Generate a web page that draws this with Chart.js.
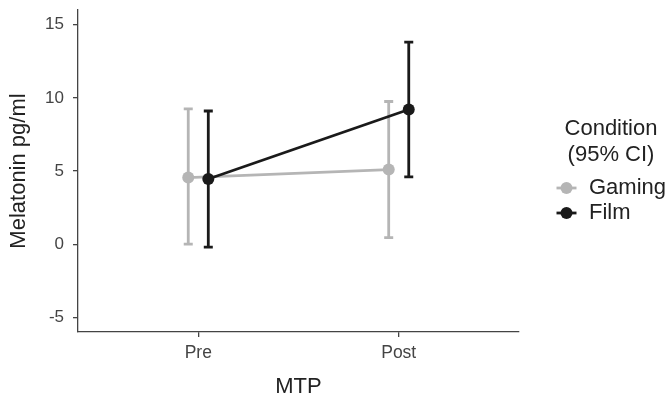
<!DOCTYPE html>
<html>
<head>
<meta charset="utf-8">
<script src="https://cdn.jsdelivr.net/npm/chart.js@4/dist/chart.umd.min.js"></script>
<style>
    body { margin: 0; background: #fff; }
    #wrap { width: 671px; height: 401px; position: relative; }
</style>
</head>
<body>
<div id="wrap"><canvas id="chart"></canvas></div>
<script>
const categories = ['Pre', 'Post'];
const gamingMean = [4.55, 5.1];
const gamingLower = [0.0, 0.45];
const gamingUpper = [9.25, 9.75];
const filmMean = [4.45, 9.2];
const filmLower = [-0.2, 4.6];
const filmUpper = [9.1, 13.8];
const yTicks = [-5, 0, 5, 10, 15];

const GREY = '#b5b5b5';
const BLACK = '#1a1a1a';
const AXIS = '#444';
const FONT = "'Liberation Sans', Arial, sans-serif";
const dodge = 0.05;

function toPoints(values, shift) {
    return values.map((v, i) => ({ x: i + 1 + shift, y: v }));
}

// draws the 95% CI whiskers under each dataset's line
const errorBars = {
    id: 'errorBars',
    beforeDatasetDraw(chart, args) {
        const ds = chart.data.datasets[args.index];
        const yScale = chart.scales.y;
        const ctx = chart.ctx;
        ctx.save();
        ctx.strokeStyle = ds.borderColor;
        ctx.lineWidth = 2.8;
        args.meta.data.forEach((pt, j) => {
            const top = yScale.getPixelForValue(ds.upper[j]);
            const bottom = yScale.getPixelForValue(ds.lower[j]);
            ctx.beginPath();
            ctx.moveTo(pt.x, top);
            ctx.lineTo(pt.x, bottom);
            ctx.moveTo(pt.x - 4.5, top);
            ctx.lineTo(pt.x + 4.5, top);
            ctx.moveTo(pt.x - 4.5, bottom);
            ctx.lineTo(pt.x + 4.5, bottom);
            ctx.stroke();
        });
        ctx.restore();
    }
};

const sideLegend = {
    id: 'sideLegend',
    afterDraw(chart) {
        const ctx = chart.ctx;
        const cx = chart.chartArea.right + 92;
        ctx.save();
        ctx.font = '22px ' + FONT;
        ctx.fillStyle = '#222';
        ctx.textBaseline = 'middle';
        ctx.textAlign = 'center';
        ctx.fillText('Condition', cx, 129);
        ctx.fillText('(95% CI)', cx, 155);
        ctx.textAlign = 'left';
        const items = [
            { label: 'Gaming', color: GREY, y: 188 },
            { label: 'Film', color: BLACK, y: 213 }
        ];
        items.forEach(item => {
            const sx = chart.chartArea.right + 47.5;
            ctx.strokeStyle = item.color;
            ctx.fillStyle = item.color;
            ctx.lineWidth = 2.8;
            ctx.beginPath();
            ctx.moveTo(sx - 10, item.y);
            ctx.lineTo(sx + 10, item.y);
            ctx.stroke();
            ctx.beginPath();
            ctx.arc(sx, item.y, 6, 0, Math.PI * 2);
            ctx.fill();
            ctx.fillStyle = '#222';
            ctx.fillText(item.label, chart.chartArea.right + 70, item.y);
        });
        ctx.restore();
    }
};

function noPadding(scale) {
    scale.paddingTop = 0;
    scale.paddingBottom = 0;
    scale.paddingLeft = 0;
    scale.paddingRight = 0;
}

new Chart(document.getElementById('chart'), {
    type: 'scatter',
    data: {
        datasets: [
            {
                label: 'Gaming',
                data: toPoints(gamingMean, -dodge),
                lower: gamingLower,
                upper: gamingUpper,
                borderColor: GREY,
                backgroundColor: GREY,
                showLine: true,
                borderWidth: 2.8,
                pointRadius: 6,
                pointBorderWidth: 0,
                order: 2
            },
            {
                label: 'Film',
                data: toPoints(filmMean, dodge),
                lower: filmLower,
                upper: filmUpper,
                borderColor: BLACK,
                backgroundColor: BLACK,
                showLine: true,
                borderWidth: 2.8,
                pointRadius: 6,
                pointBorderWidth: 0,
                order: 1
            }
        ]
    },
    options: {
        responsive: true,
        maintainAspectRatio: false,
        animation: false,
        layout: { padding: { top: 10, right: 152, left: 0, bottom: 0 } },
        plugins: {
            legend: { display: false },
            tooltip: { enabled: false }
        },
        scales: {
            x: {
                type: 'linear',
                min: 0.4,
                max: 2.6,
                afterBuildTicks: s => { s.ticks = categories.map((c, i) => ({ value: i + 1 })); },
                afterFit: s => { s.height = 69; noPadding(s); },
                ticks: {
                    callback: v => categories[v - 1],
                    color: AXIS,
                    padding: 6,
                    font: { family: FONT, size: 17.5 },
                    maxRotation: 0
                },
                grid: { drawOnChartArea: false, drawTicks: true, tickLength: 5, color: AXIS, lineWidth: 1.3 },
                border: { color: AXIS, width: 1.3 },
                title: {
                    display: true,
                    text: 'MTP',
                    color: '#222',
                    font: { family: FONT, size: 22 },
                    padding: { top: 0, bottom: 1 }
                }
            },
            y: {
                min: -6,
                max: 16,
                afterBuildTicks: s => { s.ticks = yTicks.map(v => ({ value: v })); },
                afterFit: s => { s.width = 78; noPadding(s); },
                ticks: {
                    color: AXIS,
                    padding: 9,
                    font: { family: FONT, size: 17 }
                },
                grid: { drawOnChartArea: false, drawTicks: true, tickLength: 5, color: AXIS, lineWidth: 1.3 },
                border: { color: AXIS, width: 1.3 },
                title: {
                    display: true,
                    text: 'Melatonin pg/ml',
                    color: '#222',
                    font: { family: FONT, size: 22 },
                    padding: { top: 6, bottom: 0 }
                }
            }
        }
    },
    plugins: [errorBars, sideLegend]
});
</script>
</body>
</html>
